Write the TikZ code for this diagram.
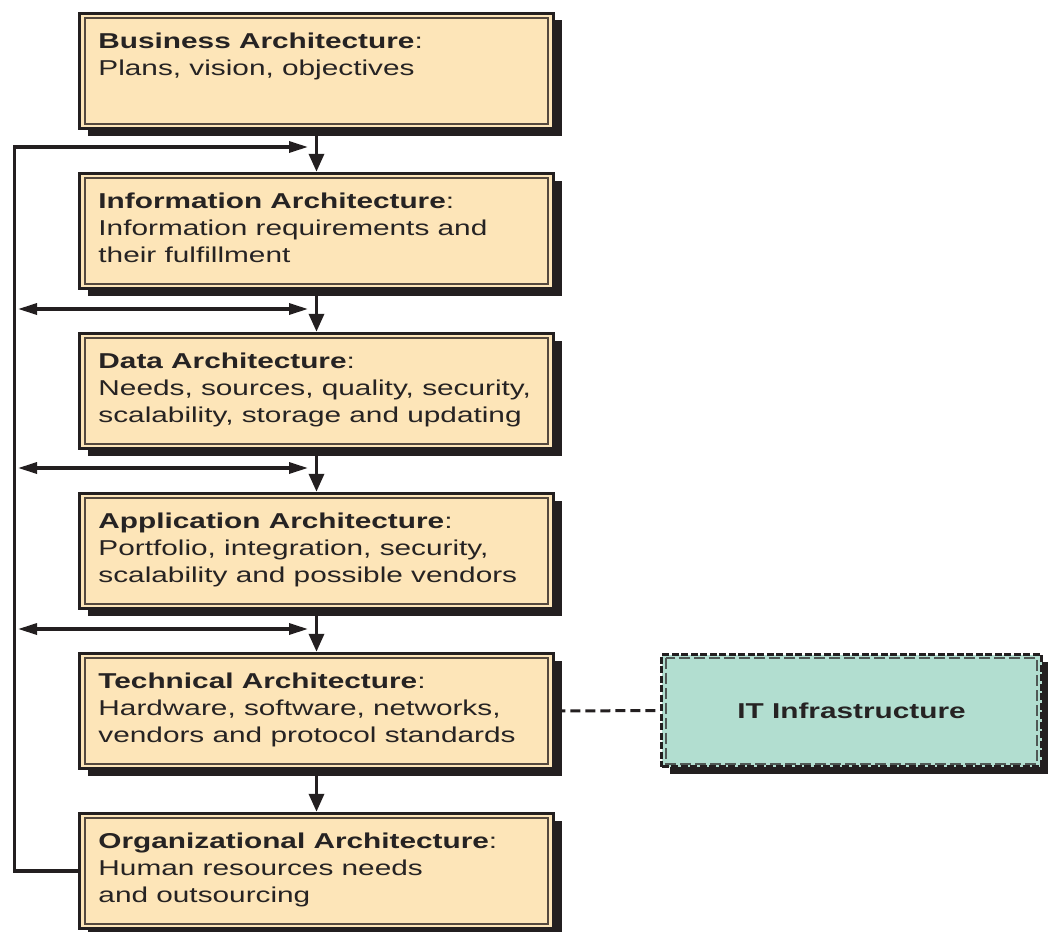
\documentclass[tikz,border=0pt]{standalone}
\usepackage{fontspec}
\setmainfont{Liberation Sans}[FakeStretch=1.385]
\usetikzlibrary{arrows.meta,shadows}

\definecolor{peach}{RGB}{253,229,184}
\definecolor{mint}{RGB}{178,222,208}
\definecolor{ink}{RGB}{35,31,32}
\definecolor{txt}{RGB}{38,35,35}
\definecolor{rulecol}{RGB}{84,72,62}
\definecolor{dashcol}{RGB}{80,88,85}

\begin{document}
\begin{tikzpicture}[x=1pt,y=-1pt,
  archbox/.style={rectangle, inner sep=0pt, minimum width=474pt, minimum height=115pt,
    fill=peach, draw=ink, line width=3.5pt,
    drop shadow={shadow xshift=8pt, shadow yshift=-7pt, opacity=1, fill=ink}},
  innerrule/.style={draw=rulecol, line width=1.6pt},
  archtext/.style={anchor=base west, inner sep=0pt, text=txt,
    font=\fontsize{21.5pt}{27pt}\selectfont},
  itbox/.style={rectangle, inner sep=0pt, minimum width=380pt, minimum height=112pt,
    fill=mint, draw=ink, line width=3.5pt, dash pattern=on 7pt off 2.5pt,
    text=txt, font=\fontsize{21.5pt}{27pt}\selectfont\bfseries,
    drop shadow={shadow xshift=8pt, shadow yshift=-7pt, opacity=1, fill=ink}},
  itrule/.style={draw=dashcol, line width=1.6pt, dash pattern=on 11pt off 4pt},
  vconn/.style={draw=ink, line width=3.5pt, -{Triangle[length=18pt,width=15pt]}},
  hconn/.style={draw=ink, line width=3.2pt, -{Triangle[length=19pt,width=11pt]}},
  dconn/.style={draw=ink, line width=3.2pt, {Triangle[length=19pt,width=11pt]}-{Triangle[length=19pt,width=11pt]}},
  linkline/.style={draw=ink, line width=3pt, dash pattern=on 10pt off 5pt},
]
\useasboundingbox (0,0) rectangle (1048,931);

% the six architecture layers
\node[archbox] (b1) at (316.5,71) {};
\node[archbox] (b2) at (316.5,231) {};
\node[archbox] (b3) at (316.5,391) {};
\node[archbox] (b4) at (316.5,551) {};
\node[archbox] (b5) at (316.5,711) {};
\node[archbox] (b6) at (316.5,871) {};

% thin inner frame of each layer
\foreach \b in {b1,b2,b3,b4,b5,b6}
  \draw[innerrule] ([shift={(7.5,6)}]\b.north west) rectangle ([shift={(-7.5,-6)}]\b.south east);

% layer descriptions
\node[archtext] (t1) at ([shift={(20.5,36.5)}]b1.north west)
  {\begin{tabular}[t]{@{}l@{}}\textbf{Business Architecture}:\\ Plans, vision, objectives\end{tabular}};
\node[archtext] (t2) at ([shift={(20.5,36.5)}]b2.north west)
  {\begin{tabular}[t]{@{}l@{}}\textbf{Information Architecture}:\\ Information requirements and\\ their fulfillment\end{tabular}};
\node[archtext] (t3) at ([shift={(20.5,36.5)}]b3.north west)
  {\begin{tabular}[t]{@{}l@{}}\textbf{Data Architecture}:\\ Needs, sources, quality, security,\\ scalability, storage and updating\end{tabular}};
\node[archtext] (t4) at ([shift={(20.5,36.5)}]b4.north west)
  {\begin{tabular}[t]{@{}l@{}}\textbf{Application Architecture}:\\ Portfolio, integration, security,\\ scalability and possible vendors\end{tabular}};
\node[archtext] (t5) at ([shift={(20.5,36.5)}]b5.north west)
  {\begin{tabular}[t]{@{}l@{}}\textbf{Technical Architecture}:\\ Hardware, software, networks,\\ vendors and protocol standards\end{tabular}};
\node[archtext] (t6) at ([shift={(20.5,36.5)}]b6.north west)
  {\begin{tabular}[t]{@{}l@{}}\textbf{Organizational Architecture}:\\ Human resources needs\\ and outsourcing\end{tabular}};

% IT infrastructure box
\node[itbox] (it) at (851.5,710.5) {IT Infrastructure};
\draw[itrule] ([shift={(6.5,5)}]it.north west) rectangle ([shift={(-6,-4.5)}]it.south east);

% flow between the layers
\draw[vconn] (b1.south) -- (b2.north);
\draw[vconn] (b2.south) -- (b3.north);
\draw[vconn] (b3.south) -- (b4.north);
\draw[vconn] (b4.south) -- (b5.north);
\draw[vconn] (b5.south) -- (b6.north);

% feedback channel on the left
\coordinate (lt) at (14.5,147);
\coordinate (j1) at (308,147);
\coordinate (j2) at (308,309);
\coordinate (j3) at (308,468);
\coordinate (j4) at (308,629);
\coordinate (k2) at (18,309);
\coordinate (k3) at (18,468);
\coordinate (k4) at (18,629);
\draw[hconn] (b6.west) -| (lt) -- (j1);
\draw[dconn] (k2) -- (j2);
\draw[dconn] (k3) -- (j3);
\draw[dconn] (k4) -- (j4);

% link to the infrastructure
\draw[linkline] (b5.east) -- (it.west);
\end{tikzpicture}
\end{document}
